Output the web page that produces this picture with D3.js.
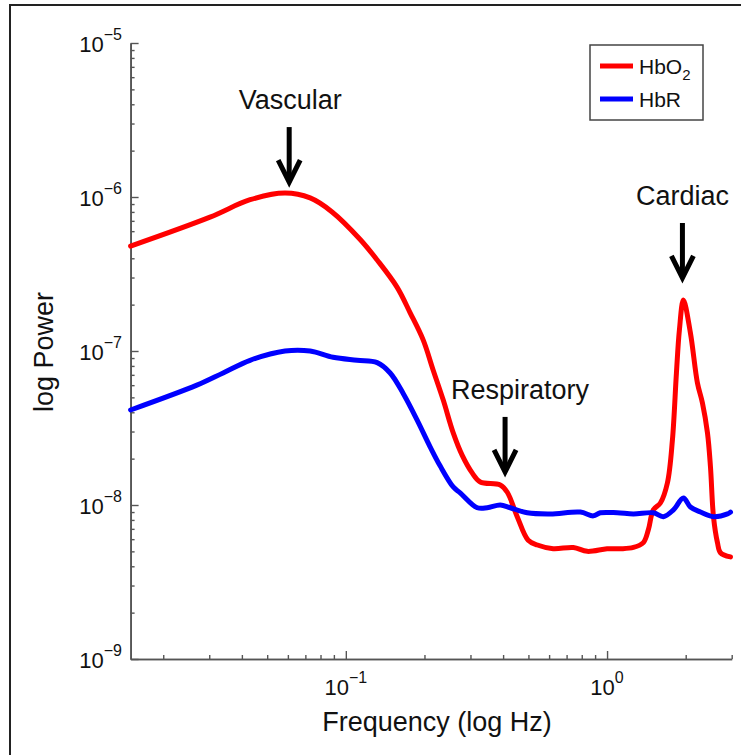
<!DOCTYPE html>
<html>
<head>
<meta charset="utf-8">
<script src="https://cdn.jsdelivr.net/npm/d3@7"></script>
<style>
  body { margin: 0; background: #fff; }
  svg text { font-family: "Liberation Sans", Arial, sans-serif; fill: #111; }
</style>
</head>
<body>
<svg id="chart" width="741" height="755"></svg>
<script>
// spectra (frequency in Hz, power)
var hbo2Freq = [0.015, 0.0302, 0.043, 0.0585, 0.073, 0.0886, 0.1135, 0.1318, 0.157, 0.1763,
  0.1977, 0.216, 0.236, 0.2577, 0.279, 0.305, 0.327, 0.39, 0.415, 0.453, 0.499, 0.541,
  0.622, 0.743, 0.84, 1.0, 1.125, 1.261, 1.377, 1.439, 1.504, 1.6, 1.702, 1.779, 1.843,
  1.892, 1.96, 2.085, 2.218, 2.318, 2.423, 2.488, 2.555, 2.646, 2.717, 2.968]
var hbo2Power = [4.8e-7, 7.4e-7, 9.6e-7, 1.06e-6, 9.86e-7, 8.0e-7, 5.3e-7, 3.9e-7, 2.6e-7, 1.77e-7,
  1.18e-7, 7.5e-8, 4.8e-8, 2.94e-8, 2.1e-8, 1.61e-8, 1.41e-8, 1.35e-8, 1.21e-8, 8.4e-9, 5.9e-9, 5.5e-9,
  5.2e-9, 5.3e-9, 5.0e-9, 5.2e-9, 5.2e-9, 5.3e-9, 5.7e-9, 6.9e-9, 9.3e-9, 1.03e-8, 1.39e-8, 2.64e-8, 7.2e-8,
  1.37e-7, 2.14e-7, 1.31e-7, 6.2e-8, 4.6e-8, 2.94e-8, 1.77e-8, 8.4e-9, 5.7e-9, 4.9e-9, 4.6e-9]

var hbrFreq = [0.015, 0.0269, 0.0339, 0.043, 0.0585, 0.073, 0.0894, 0.1105, 0.1318, 0.1478,
  0.1658, 0.1875, 0.2104, 0.2298, 0.2577, 0.274, 0.3186, 0.3478, 0.39, 0.426, 0.495, 0.607,
  0.79, 0.886, 0.942, 1.095, 1.261, 1.504, 1.643, 1.795, 1.96, 2.085, 2.278, 2.555, 2.89, 2.968]
var hbrPower = [4.14e-8, 6.0e-8, 7.2e-8, 8.7e-8, 1.0e-7, 1.0e-7, 9.1e-8, 8.7e-8, 8.4e-8, 7.2e-8,
  5.3e-8, 3.56e-8, 2.38e-8, 1.79e-8, 1.31e-8, 1.2e-8, 9.6e-9, 9.6e-9, 1.0e-8, 9.6e-9, 8.9e-9, 8.75e-9,
  9.0e-9, 8.5e-9, 8.9e-9, 8.9e-9, 8.75e-9, 8.9e-9, 8.4e-9, 9.3e-9, 1.11e-8, 9.7e-9, 9.0e-9, 8.4e-9, 8.75e-9, 9.0e-9]

var seriesNames = ["HbO2", "HbR"]
var seriesColors = ["#ff0000", "#0000ff"]

// annotated peaks
var peakLabels = ["Vascular", "Respiratory", "Cardiac"]
var peakFreq = [0.0607, 0.407, 1.943]
var peakTip = [1.25e-6, 1.64e-8, 2.98e-7]

var xMajor = [0.1, 1]
var yMajor = [1e-9, 1e-8, 1e-7, 1e-6, 1e-5]

var svg = d3.select("#chart")

// outer frame
svg.append("rect")
  .attr("x", 10).attr("y", 5)
  .attr("width", 800).attr("height", 800)
  .attr("fill", "none").attr("stroke", "#222").attr("stroke-width", 2)

var x = d3.scaleLog().domain([0.015, 3]).range([130.6, 731.7])
var y = d3.scaleLog().domain([1e-9, 1e-5]).range([659, 43])

var minorX = x.ticks().filter(function(d) { return xMajor.indexOf(+d.toPrecision(3)) < 0 })
var minorY = y.ticks().filter(function(d) { return yMajor.indexOf(+d.toPrecision(3)) < 0 })

function styleAxis(g) {
  g.select(".domain").attr("stroke", "#555").attr("stroke-width", 1.6)
  g.selectAll(".tick line").attr("stroke", "#555").attr("stroke-width", 1.4)
  g.selectAll(".tick text").remove()
}

// minor ticks
svg.append("g").attr("transform", "translate(0,659)")
  .call(d3.axisBottom(x).tickValues(minorX).tickSize(-4).tickSizeOuter(0))
  .call(styleAxis)
svg.append("g").attr("transform", "translate(130.6,0)")
  .call(d3.axisLeft(y).tickValues(minorY).tickSize(-4).tickSizeOuter(0))
  .call(styleAxis)
// major ticks
svg.append("g").attr("transform", "translate(0,659)")
  .call(d3.axisBottom(x).tickValues(xMajor).tickSize(-8).tickSizeOuter(0))
  .call(styleAxis)
svg.append("g").attr("transform", "translate(130.6,0)")
  .call(d3.axisLeft(y).tickValues(yMajor).tickSize(-8).tickSizeOuter(0))
  .call(styleAxis)

// tick labels as 10^n
svg.selectAll(".xlab").data(xMajor).enter().append("text")
  .attr("x", function(d) { return x(d) }).attr("y", 695)
  .attr("text-anchor", "middle").style("font-size", "22px")
  .each(function(d) {
    var e = Math.round(Math.log10(d)), t = d3.select(this)
    t.append("tspan").text("10")
    t.append("tspan").attr("dy", -12).style("font-size", "16px").text(e < 0 ? "\u2212" + (-e) : e)
  })

svg.selectAll(".ylab").data(yMajor).enter().append("text")
  .attr("x", 122).attr("y", function(d) { return y(d) + 9 })
  .attr("text-anchor", "end").style("font-size", "22px")
  .each(function(d) {
    var e = Math.round(Math.log10(d)), t = d3.select(this)
    t.append("tspan").text("10")
    t.append("tspan").attr("dy", -12).style("font-size", "16px").text("\u2212" + (-e))
  })

// axis titles
svg.append("text").attr("x", 437).attr("y", 731)
  .attr("text-anchor", "middle").style("font-size", "27px")
  .text("Frequency (log Hz)")
svg.append("text").attr("transform", "translate(53,352) rotate(-90)")
  .attr("text-anchor", "middle").style("font-size", "27px")
  .text("log Power")

// curves
var line = d3.line()
  .x(function(d) { return x(d[0]) })
  .y(function(d) { return y(d[1]) })
  .curve(d3.curveCatmullRom.alpha(0.5))

var curves = [d3.zip(hbo2Freq, hbo2Power), d3.zip(hbrFreq, hbrPower)]
curves.forEach(function(c, i) {
  svg.append("path").datum(c)
    .attr("d", line)
    .attr("fill", "none")
    .attr("stroke", seriesColors[i])
    .attr("stroke-width", 5)
    .attr("stroke-linejoin", "round")
    .attr("stroke-linecap", "round")
})

// arrows + labels
var labelDx = [1, 15, 0]
peakLabels.forEach(function(lab, i) {
  var ax = x(peakFreq[i]), tip = y(peakTip[i]), top = tip - 55
  var g = svg.append("g")
  g.append("line").attr("x1", ax).attr("x2", ax).attr("y1", top).attr("y2", tip - 2)
    .attr("stroke", "#000").attr("stroke-width", 5)
  g.append("path")
    .attr("d", "M" + (ax - 11) + "," + (tip - 22) + "L" + ax + "," + tip + "L" + (ax + 11) + "," + (tip - 22))
    .attr("fill", "none").attr("stroke", "#000").attr("stroke-width", 5)
  g.append("text").attr("x", ax + labelDx[i]).attr("y", top - 18)
    .attr("text-anchor", "middle").style("font-size", "27px")
    .text(lab)
})

// legend
var leg = svg.append("g")
leg.append("rect").attr("x", 590).attr("y", 45).attr("width", 113).attr("height", 75)
  .attr("fill", "#fff").attr("stroke", "#444").attr("stroke-width", 1.5)
seriesNames.forEach(function(n, i) {
  var ly = 66 + i * 33
  leg.append("line").attr("x1", 600).attr("x2", 633).attr("y1", ly).attr("y2", ly)
    .attr("stroke", seriesColors[i]).attr("stroke-width", 5)
  var t = leg.append("text").attr("x", 639).attr("y", ly + 8).style("font-size", "21px")
  if (n == "HbO2") {
    t.append("tspan").text("HbO")
    t.append("tspan").attr("dy", 6).style("font-size", "15px").text("2")
  } else {
    t.text(n)
  }
})
</script>
</body>
</html>
